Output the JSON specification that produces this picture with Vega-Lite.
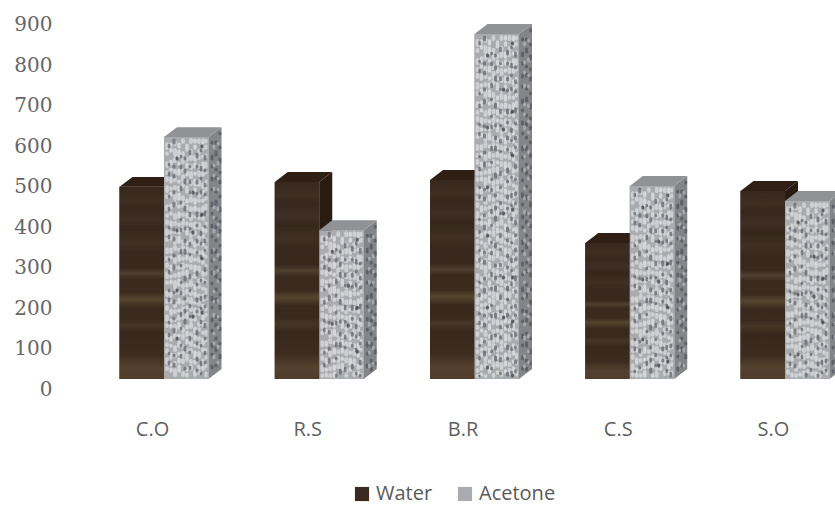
{
  "$schema": "https://vega.github.io/schema/vega-lite/v6.json",
  "description": "Paired pseudo-3D columns of Water and Acetone for five samples; faces are derived from each value.",
  "autosize": "none",
  "padding": {"left": 55, "top": 0, "right": 0, "bottom": 127},
  "width": 780,
  "height": 379,
  "background": "white",
  "config": {"view": {"stroke": null}},
  "data": {"values": [
    {"cat": "C.O", "series": "Water", "value": 475},
    {"cat": "C.O", "series": "Acetone", "value": 598},
    {"cat": "R.S", "series": "Water", "value": 487},
    {"cat": "R.S", "series": "Acetone", "value": 368},
    {"cat": "B.R", "series": "Water", "value": 492},
    {"cat": "B.R", "series": "Acetone", "value": 853},
    {"cat": "C.S", "series": "Water", "value": 336},
    {"cat": "C.S", "series": "Acetone", "value": 477},
    {"cat": "S.O", "series": "Water", "value": 465},
    {"cat": "S.O", "series": "Acetone", "value": 440}
  ]},
  "transform": [
    {"calculate": "indexof(['C.O','R.S','B.R','C.S','S.O'],datum.cat)", "as": "i"},
    {"calculate": "datum.i + (datum.series === 'Water' ? -0.2866 : 0)", "as": "xl"},
    {"calculate": "datum.xl + 0.2866", "as": "xr"}
  ],
  "layer": [
    {
      "mark": {"type": "rect"},
      "encoding": {
        "x": {"field": "xl", "type": "quantitative",
          "scale": {"domain": [-0.7021, 4.322], "nice": false, "zero": false},
          "axis": {"title": null, "values": [0, 1, 2, 3, 4], "labelExpr": "['C.O','R.S','B.R','C.S','S.O'][datum.value]", "labelOffset": -12, "labelPadding": 40, "labelFont": "Open Sans", "labelFontSize": 20, "labelColor": "#5f5f5f", "ticks": false, "domain": false, "grid": false}},
        "x2": {"field": "xr"},
        "y": {"field": "value", "type": "quantitative",
          "scale": {"domain": [0, 937], "nice": false, "zero": false},
          "axis": {"title": null, "values": [0, 100, 200, 300, 400, 500, 600, 700, 800, 900], "labelOffset": 10, "labelPadding": 3, "labelFont": "DejaVu Serif", "labelFontSize": 20, "labelColor": "#666666", "ticks": false, "domain": false, "grid": false}},
        "y2": {"datum": 0},
        "color": {"field": "series", "type": "nominal",
          "scale": {"domain": ["Water", "Acetone"], "range": ["#3a2a1f", "#a9abae"]},
          "legend": {"title": null, "orient": "none", "legendX": 297, "legendY": 484, "direction": "horizontal", "symbolType": "square", "symbolSize": 200, "labelFont": "Open Sans", "labelFontSize": 20, "labelColor": "#5a5a5a", "columnPadding": 22, "symbolStrokeWidth": 0}}
      }
    },
    {
      "transform": [
        {"filter": "datum.series === 'Water'"},
        {"calculate": "[0,1]", "as": "d"},
        {"flatten": ["d"]},
        {"calculate": "datum.xr + datum.d * 0.0837", "as": "sx"},
        {"calculate": "datum.value + datum.d * 24.7", "as": "sy"},
        {"calculate": "datum.d * 24.7", "as": "sb"},
        {"calculate": "datum.xl + datum.d * 0.0837", "as": "tl"}
      ],
      "layer": [
        {
          "mark": {"type": "area", "color": "#2a1b11"},
          "encoding": {
            "x": {"field": "sx", "type": "quantitative"},
            "y": {"field": "sy", "type": "quantitative"},
            "y2": {"field": "sb"},
            "detail": {"field": "cat"}
          }
        },
        {
          "mark": {"type": "area", "orient": "horizontal", "color": "#2f1f14"},
          "encoding": {
            "y": {"field": "sy", "type": "quantitative"},
            "x": {"field": "tl", "type": "quantitative"},
            "x2": {"field": "sx"},
            "detail": {"field": "cat"}
          }
        }
      ]
    },
    {
      "transform": [{"filter": "datum.series === 'Water'"}],
      "mark": {"type": "rect", "color": {"gradient": "linear", "x1": 0, "y1": 0, "x2": 0, "y2": 1, "stops": [
        {"offset": 0, "color": "#38281d"}, {"offset": 0.07, "color": "#3f2e22"}, {"offset": 0.11, "color": "#37271c"},
        {"offset": 0.17, "color": "#3f2e23"}, {"offset": 0.22, "color": "#36271c"}, {"offset": 0.29, "color": "#403023"},
        {"offset": 0.34, "color": "#38281d"}, {"offset": 0.42, "color": "#39291d"}, {"offset": 0.45, "color": "#4f3f2f"},
        {"offset": 0.48, "color": "#3a2a1e"}, {"offset": 0.55, "color": "#3c2b1d"}, {"offset": 0.585, "color": "#55452f"},
        {"offset": 0.63, "color": "#38291c"}, {"offset": 0.69, "color": "#3a2a1d"}, {"offset": 0.72, "color": "#463626"},
        {"offset": 0.76, "color": "#38281c"}, {"offset": 0.87, "color": "#3d2c1e"}, {"offset": 0.94, "color": "#54412e"},
        {"offset": 1, "color": "#4f3c2a"}
      ]}},
      "encoding": {
        "x": {"field": "xl", "type": "quantitative"},
        "x2": {"field": "xr"},
        "y": {"field": "value", "type": "quantitative"},
        "y2": {"datum": 0}
      }
    },
    {
      "transform": [
        {"filter": "datum.series === 'Acetone'"},
        {"calculate": "[0,1]", "as": "d"},
        {"flatten": ["d"]},
        {"calculate": "datum.xr + datum.d * 0.0837", "as": "sx"},
        {"calculate": "datum.value + datum.d * 24.7", "as": "sy"},
        {"calculate": "datum.d * 24.7", "as": "sb"},
        {"calculate": "datum.xl + datum.d * 0.0837", "as": "tl"}
      ],
      "layer": [
        {
          "mark": {"type": "area", "color": "#838589"},
          "encoding": {
            "x": {"field": "sx", "type": "quantitative"},
            "y": {"field": "sy", "type": "quantitative"},
            "y2": {"field": "sb"},
            "detail": {"field": "cat"}
          }
        },
        {
          "mark": {"type": "area", "orient": "horizontal", "color": "#919296"},
          "encoding": {
            "y": {"field": "sy", "type": "quantitative"},
            "x": {"field": "tl", "type": "quantitative"},
            "x2": {"field": "sx"},
            "detail": {"field": "cat"}
          }
        }
      ]
    },
    {
      "transform": [{"filter": "datum.series === 'Acetone'"}],
      "mark": {"type": "rect", "color": "#a9abaf"},
      "encoding": {
        "x": {"field": "xl", "type": "quantitative"},
        "x2": {"field": "xr"},
        "y": {"field": "value", "type": "quantitative"},
        "y2": {"datum": 0}
      }
    },
    {
      "transform": [{"filter": "datum.series === 'Acetone'"}],
      "encoding": {
        "x": {"field": "xl", "type": "quantitative"},
        "y": {"field": "value", "type": "quantitative"},
        "y2": {"datum": 0}
      },
      "layer": [
        {"mark": {"type": "rule", "xOffset": 3, "yOffset": 3, "y2Offset": -3, "color": "#d6d8db", "opacity": 0.8, "strokeWidth": 3.8, "strokeCap": "round", "strokeDash": [2, 7, 4, 5, 1, 9, 3, 6, 1, 5], "strokeDashOffset": 5}},
        {"mark": {"type": "rule", "xOffset": 7, "yOffset": 3, "y2Offset": -3, "color": "#dcdee0", "opacity": 0.8, "strokeWidth": 3.4, "strokeCap": "round", "strokeDash": [3, 5, 1, 8, 4, 6, 1, 4, 2, 10], "strokeDashOffset": 23}},
        {"mark": {"type": "rule", "xOffset": 11, "yOffset": 3, "y2Offset": -3, "color": "#d6d8db", "opacity": 0.8, "strokeWidth": 4, "strokeCap": "round", "strokeDash": [1, 6, 5, 4, 2, 10, 3, 5, 1, 7], "strokeDashOffset": 41}},
        {"mark": {"type": "rule", "xOffset": 15, "yOffset": 3, "y2Offset": -3, "color": "#dfe1e3", "opacity": 0.8, "strokeWidth": 3.4, "strokeCap": "round", "strokeDash": [4, 7, 1, 5, 3, 4, 5, 7, 1, 6], "strokeDashOffset": 13}},
        {"mark": {"type": "rule", "xOffset": 19, "yOffset": 3, "y2Offset": -3, "color": "#d6d8db", "opacity": 0.8, "strokeWidth": 3.8, "strokeCap": "round", "strokeDash": [2, 4, 3, 8, 1, 5, 4, 4, 2, 11], "strokeDashOffset": 31}},
        {"mark": {"type": "rule", "xOffset": 23, "yOffset": 3, "y2Offset": -3, "color": "#dcdee0", "opacity": 0.8, "strokeWidth": 3.4, "strokeCap": "round", "strokeDash": [3, 6, 1, 5, 5, 8, 2, 4, 3, 5], "strokeDashOffset": 52}},
        {"mark": {"type": "rule", "xOffset": 27, "yOffset": 3, "y2Offset": -3, "color": "#d6d8db", "opacity": 0.8, "strokeWidth": 4, "strokeCap": "round", "strokeDash": [4, 5, 2, 9, 1, 4, 3, 7, 2, 5], "strokeDashOffset": 9}},
        {"mark": {"type": "rule", "xOffset": 31, "yOffset": 3, "y2Offset": -3, "color": "#dfe1e3", "opacity": 0.8, "strokeWidth": 3.4, "strokeCap": "round", "strokeDash": [2, 8, 4, 4, 3, 6, 1, 6, 5, 4], "strokeDashOffset": 37}},
        {"mark": {"type": "rule", "xOffset": 35, "yOffset": 3, "y2Offset": -3, "color": "#d6d8db", "opacity": 0.8, "strokeWidth": 3.8, "strokeCap": "round", "strokeDash": [1, 5, 3, 6, 4, 9, 2, 4, 1, 8], "strokeDashOffset": 17}},
        {"mark": {"type": "rule", "xOffset": 39, "yOffset": 3, "y2Offset": -3, "color": "#dcdee0", "opacity": 0.8, "strokeWidth": 3.4, "strokeCap": "round", "strokeDash": [3, 4, 2, 7, 1, 6, 5, 5, 2, 9], "strokeDashOffset": 44}},
        {"mark": {"type": "rule", "xOffset": 42, "yOffset": 3, "y2Offset": -3, "color": "#d6d8db", "opacity": 0.8, "strokeWidth": 3, "strokeCap": "round", "strokeDash": [2, 6, 4, 5, 1, 8, 3, 4, 2, 7], "strokeDashOffset": 27}},
        {"mark": {"type": "rule", "xOffset": 5, "yOffset": 3, "y2Offset": -3, "color": "#64676d", "opacity": 0.75, "strokeWidth": 2.6, "strokeCap": "round", "strokeDash": [1, 11, 2, 17, 1, 8, 2, 21], "strokeDashOffset": 7}},
        {"mark": {"type": "rule", "xOffset": 10, "yOffset": 3, "y2Offset": -3, "color": "#64676d", "opacity": 0.75, "strokeWidth": 3, "strokeCap": "round", "strokeDash": [2, 15, 1, 10, 3, 23, 1, 8], "strokeDashOffset": 28}},
        {"mark": {"type": "rule", "xOffset": 17, "yOffset": 3, "y2Offset": -3, "color": "#64676d", "opacity": 0.75, "strokeWidth": 2.6, "strokeCap": "round", "strokeDash": [1, 9, 2, 19, 3, 12, 1, 16], "strokeDashOffset": 47}},
        {"mark": {"type": "rule", "xOffset": 21, "yOffset": 3, "y2Offset": -3, "color": "#64676d", "opacity": 0.75, "strokeWidth": 3, "strokeCap": "round", "strokeDash": [3, 18, 1, 11, 2, 8, 3, 24], "strokeDashOffset": 3}},
        {"mark": {"type": "rule", "xOffset": 26, "yOffset": 3, "y2Offset": -3, "color": "#64676d", "opacity": 0.75, "strokeWidth": 2.6, "strokeCap": "round", "strokeDash": [1, 14, 2, 9, 1, 20, 3, 12], "strokeDashOffset": 36}},
        {"mark": {"type": "rule", "xOffset": 33, "yOffset": 3, "y2Offset": -3, "color": "#64676d", "opacity": 0.75, "strokeWidth": 3, "strokeCap": "round", "strokeDash": [2, 10, 1, 19, 3, 9, 1, 14], "strokeDashOffset": 18}},
        {"mark": {"type": "rule", "xOffset": 37, "yOffset": 3, "y2Offset": -3, "color": "#64676d", "opacity": 0.75, "strokeWidth": 2.6, "strokeCap": "round", "strokeDash": [1, 16, 3, 8, 1, 12, 2, 22], "strokeDashOffset": 55}},
        {"mark": {"type": "rule", "xOffset": 41, "yOffset": 3, "y2Offset": -3, "color": "#64676d", "opacity": 0.75, "strokeWidth": 2.8, "strokeCap": "round", "strokeDash": [2, 8, 1, 17, 3, 11, 1, 13], "strokeDashOffset": 12}},
        {"mark": {"type": "rule", "xOffset": 13, "yOffset": 3, "y2Offset": -3, "color": "#3f4147", "opacity": 0.75, "strokeWidth": 3, "strokeCap": "round", "strokeDash": [1, 47, 1, 71, 1, 59], "strokeDashOffset": 30}},
        {"mark": {"type": "rule", "xOffset": 29, "yOffset": 3, "y2Offset": -3, "color": "#3f4147", "opacity": 0.75, "strokeWidth": 3.2, "strokeCap": "round", "strokeDash": [1, 63, 1, 39, 1, 83], "strokeDashOffset": 12}},
        {"mark": {"type": "rule", "xOffset": 38, "yOffset": 3, "y2Offset": -3, "color": "#3f4147", "opacity": 0.75, "strokeWidth": 3, "strokeCap": "round", "strokeDash": [1, 53, 1, 67, 1, 43], "strokeDashOffset": 48}},
        {"mark": {"type": "rule", "xOffset": 48, "yOffset": 2, "y2Offset": -6, "color": "#55575c", "opacity": 0.8, "strokeWidth": 2.8, "strokeCap": "round", "strokeDash": [2, 9, 1, 13, 3, 7, 1, 11], "strokeDashOffset": 8}},
        {"mark": {"type": "rule", "xOffset": 52, "yOffset": -1, "y2Offset": -9, "color": "#55575c", "opacity": 0.8, "strokeWidth": 3, "strokeCap": "round", "strokeDash": [1, 7, 2, 12, 1, 9, 3, 14], "strokeDashOffset": 16}},
        {"mark": {"type": "rule", "xOffset": 56, "yOffset": -4, "y2Offset": -11, "color": "#55575c", "opacity": 0.8, "strokeWidth": 2.8, "strokeCap": "round", "strokeDash": [3, 10, 1, 8, 2, 13, 1, 11], "strokeDashOffset": 23}},
        {"mark": {"type": "rule", "xOffset": 50, "yOffset": 1, "y2Offset": -7, "color": "#b7b9bd", "opacity": 0.7, "strokeWidth": 2.8, "strokeCap": "round", "strokeDash": [1, 12, 2, 17, 1, 9], "strokeDashOffset": 5}},
        {"mark": {"type": "rule", "xOffset": 54, "yOffset": -2, "y2Offset": -10, "color": "#b7b9bd", "opacity": 0.7, "strokeWidth": 2.8, "strokeCap": "round", "strokeDash": [2, 14, 1, 10, 1, 18], "strokeDashOffset": 19}}
      ]
    }
  ]
}
